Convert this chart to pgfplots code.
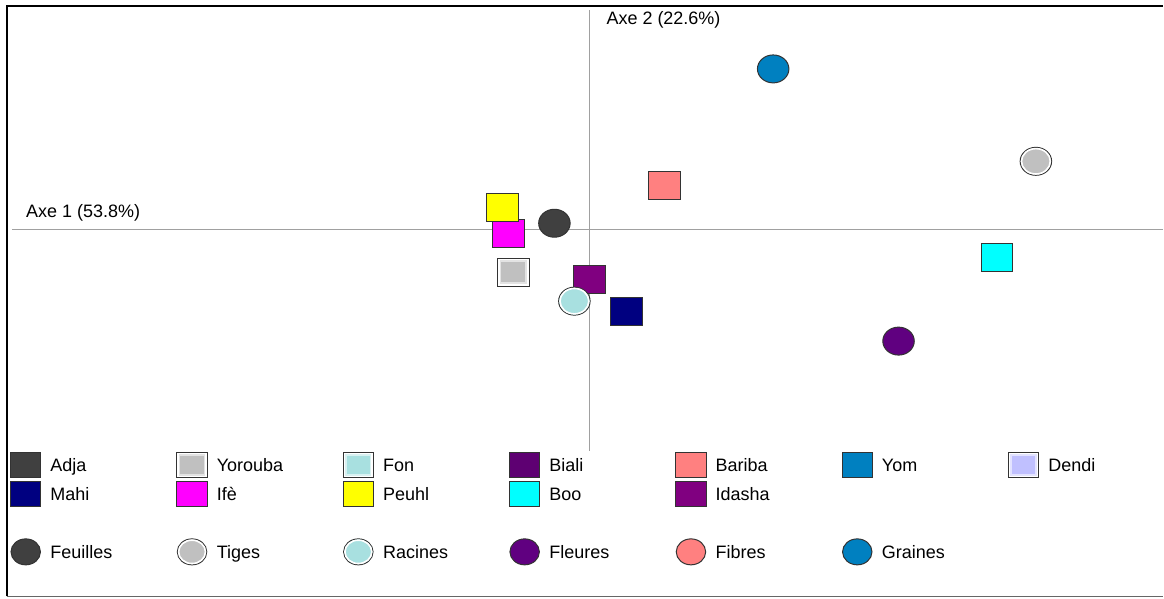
\documentclass[border=0pt]{standalone}
\usepackage{pgfplots}
\pgfplotsset{compat=1.18}
\usepackage{fontspec}
\setmainfont{Liberation Sans}

\definecolor{bordc}{HTML}{333333}
\definecolor{axc}{HTML}{A0A0A0}
\definecolor{cAdja}{HTML}{404040}
\definecolor{cYor}{HTML}{C0C0C0}
\definecolor{cFon}{HTML}{A8E0E0}
\definecolor{cBiali}{HTML}{5E0072}
\definecolor{cBariba}{HTML}{FF8080}
\definecolor{cYom}{HTML}{0080C0}
\definecolor{cDendi}{HTML}{C0C0FF}
\definecolor{cMahi}{HTML}{000080}
\definecolor{cIfe}{HTML}{FF00FF}
\definecolor{cPeuhl}{HTML}{FFFF00}
\definecolor{cBoo}{HTML}{00FFFF}
\definecolor{cIdasha}{HTML}{800080}
\definecolor{cFleur}{HTML}{600080}

% plot marks: stretched squares and ellipses
\pgfdeclareplotmark{rsq}{%
  \pgfpathrectangle{\pgfpoint{-15.75pt}{-13.85pt}}{\pgfpoint{31.5pt}{27.7pt}}%
  \pgfusepathqfillstroke}
\pgfdeclareplotmark{rsqg}{%
  \pgfpathrectangle{\pgfpoint{-15.75pt}{-13.85pt}}{\pgfpoint{31.5pt}{27.7pt}}%
  \pgfusepathqfillstroke
  \pgfsetstrokecolor{white}\pgfsetlinewidth{1.6pt}%
  \pgfpathrectangle{\pgfpoint{-14.45pt}{-12.55pt}}{\pgfpoint{28.9pt}{25.1pt}}%
  \pgfusepathqstroke
  \pgfsetstrokecolor{white!55!cYor}\pgfsetlinewidth{1.6pt}%
  \pgfpathrectangle{\pgfpoint{-12.85pt}{-10.95pt}}{\pgfpoint{25.7pt}{21.9pt}}%
  \pgfusepathqstroke}
\pgfdeclareplotmark{rell}{%
  \pgfpathellipse{\pgfpointorigin}{\pgfpoint{15.75pt}{0pt}}{\pgfpoint{0pt}{14pt}}%
  \pgfusepathqfillstroke}
\pgfdeclareplotmark{rellg}{%
  \pgfpathellipse{\pgfpointorigin}{\pgfpoint{15.75pt}{0pt}}{\pgfpoint{0pt}{14pt}}%
  \pgfusepathqfillstroke
  \pgfsetstrokecolor{white}\pgfsetlinewidth{1.6pt}%
  \pgfpathellipse{\pgfpointorigin}{\pgfpoint{14.45pt}{0pt}}{\pgfpoint{0pt}{12.7pt}}%
  \pgfusepathqstroke}

\pgfplotsset{
  sq/.style={only marks, mark=rsq, mark options={fill=#1, draw=bordc, line width=1pt},
    legend image code/.code={\draw[fill=#1, draw=bordc, line width=1pt] (0pt,-12.75pt) rectangle (30.5pt,12.75pt);}},
  sqg/.style={only marks, mark=rsqg, mark options={fill=#1, draw=bordc, line width=1pt},
    legend image code/.code={\draw[fill=#1, draw=bordc, line width=1pt] (0pt,-12.75pt) rectangle (30.5pt,12.75pt);
      \draw[white, line width=1.6pt] (1.3pt,-11.45pt) rectangle (29.2pt,11.45pt);
      \draw[white!55!#1, line width=1.6pt] (2.9pt,-9.85pt) rectangle (27.6pt,9.85pt);}},
  el/.style={only marks, mark=rell, mark options={fill=#1, draw=bordc, line width=1pt},
    legend image code/.code={\draw[fill=#1, draw=bordc, line width=1pt] (15.25pt,0pt) ellipse [x radius=14.75pt, y radius=13pt];}},
  elg/.style={only marks, mark=rellg, mark options={fill=#1, draw=bordc, line width=1pt},
    legend image code/.code={\draw[fill=#1, draw=bordc, line width=1pt] (15.25pt,0pt) ellipse [x radius=14.75pt, y radius=13pt];
      \draw[white, line width=1.6pt] (15.25pt,0pt) ellipse [x radius=13.45pt, y radius=11.7pt];}},
  noimg/.style={legend image code/.code={}},
}
\newcommand{\LE}[1]{\makebox[135pt][l]{\hspace*{9pt}#1}}
\newcommand{\LEs}[1]{\makebox[95pt][l]{\hspace*{9pt}#1}}

\begin{document}
\begin{tikzpicture}[font=\fontsize{18}{21}\selectfont]
\begin{axis}[
  scale only axis, width=1164pt, height=599pt,
  xmin=-5.90, xmax=5.74, ymin=-3.69, ymax=2.30,
  hide axis, clip=false,
  legend columns=7,
  legend cell align=left,
  legend style={at={(0.00859,0.2471)}, anchor=north west, draw=none, fill=none,
    inner sep=0pt, outer sep=0pt, row sep=0pt, column sep=0pt,
    font=\fontsize{18}{21}\selectfont,
    nodes={inner sep=0pt, outer sep=0pt, text height=12.8pt, text depth=0pt, minimum height=29pt}},
]
\path (rel axis cs:0,0) rectangle (rel axis cs:1,1);
% frame
\draw[black, line width=2.5pt, line join=miter] (axis cs:-5.832,-3.67) -- (axis cs:-5.832,2.242) -- (axis cs:5.74,2.242);
\draw[color=black!60, line width=1.5pt] (axis cs:-5.832,-3.67) -- (axis cs:5.74,-3.67);
% factorial axes
\draw[color=axc, line width=1.3pt] (axis cs:-5.78,0) -- (axis cs:5.74,0);
\draw[color=axc, line width=1.3pt] (axis cs:0,2.20) -- (axis cs:0,-2.22);
\node[anchor=west, inner sep=0pt, text height=12.8pt, text depth=0pt] at (axis cs:0.17,2.12) {Axe 2 (22.6\%)};
\node[anchor=west, inner sep=0pt, text height=12.8pt, text depth=0pt] at (axis cs:-5.64,0.19) {Axe 1 (53.8\%)};

% ethnic groups (squares)
\addlegendimage{sq=cAdja}\addlegendentry{\LE{Adja}}
\addplot[sqg=cYor] coordinates {(-0.76,-0.425)};\addlegendentry{\LE{Yorouba}}
\addlegendimage{sqg=cFon}\addlegendentry{\LE{Fon}}
\addlegendimage{sq=cBiali}\addlegendentry{\LE{Biali}}
\addplot[sq=cBariba] coordinates {(0.75,0.44)};\addlegendentry{\LE{Bariba}}
\addlegendimage{sq=cYom}\addlegendentry{\LE{Yom}}
\addlegendimage{sqg=cDendi}\addlegendentry{\LEs{Dendi}}
\addplot[sq=cMahi] coordinates {(0.37,-0.82)};\addlegendentry{\LE{Mahi}}
\addplot[sq=cIfe] coordinates {(-0.81,-0.035)};\addlegendentry{\LE{Ifè}}
\addplot[sq=cPeuhl] coordinates {(-0.87,0.22)};\addlegendentry{\LE{Peuhl}}
\addplot[sq=cBoo] coordinates {(4.08,-0.28)};\addlegendentry{\LE{Boo}}
\addplot[sq=cIdasha] coordinates {(0.00,-0.50)};\addlegendentry{\LE{Idasha}}
% blank cells
\addlegendimage{noimg}\addlegendentry{\mbox{}}
\addlegendimage{noimg}\addlegendentry{\mbox{}}
\addlegendimage{noimg}\addlegendentry{\mbox{}}
\addlegendimage{noimg}\addlegendentry{\mbox{}}
\addlegendimage{noimg}\addlegendentry{\mbox{}}
\addlegendimage{noimg}\addlegendentry{\mbox{}}
\addlegendimage{noimg}\addlegendentry{\mbox{}}
\addlegendimage{noimg}\addlegendentry{\mbox{}}
\addlegendimage{noimg}\addlegendentry{\mbox{}}
% plant parts (ellipses)
\addplot[el=cAdja] coordinates {(-0.35,0.065)};\addlegendentry{\LE{Feuilles}}
\addplot[elg=cYor] coordinates {(4.47,0.685)};\addlegendentry{\LE{Tiges}}
\addplot[elg=cFon] coordinates {(-0.15,-0.715)};\addlegendentry{\LE{Racines}}
\addplot[el=cFleur] coordinates {(3.095,-1.115)};\addlegendentry{\LE{Fleures}}
\addlegendimage{el=cBariba}\addlegendentry{\LE{Fibres}}
\addplot[el=cYom] coordinates {(1.84,1.61)};\addlegendentry{\LE{Graines}}
\end{axis}
\end{tikzpicture}
\end{document}
